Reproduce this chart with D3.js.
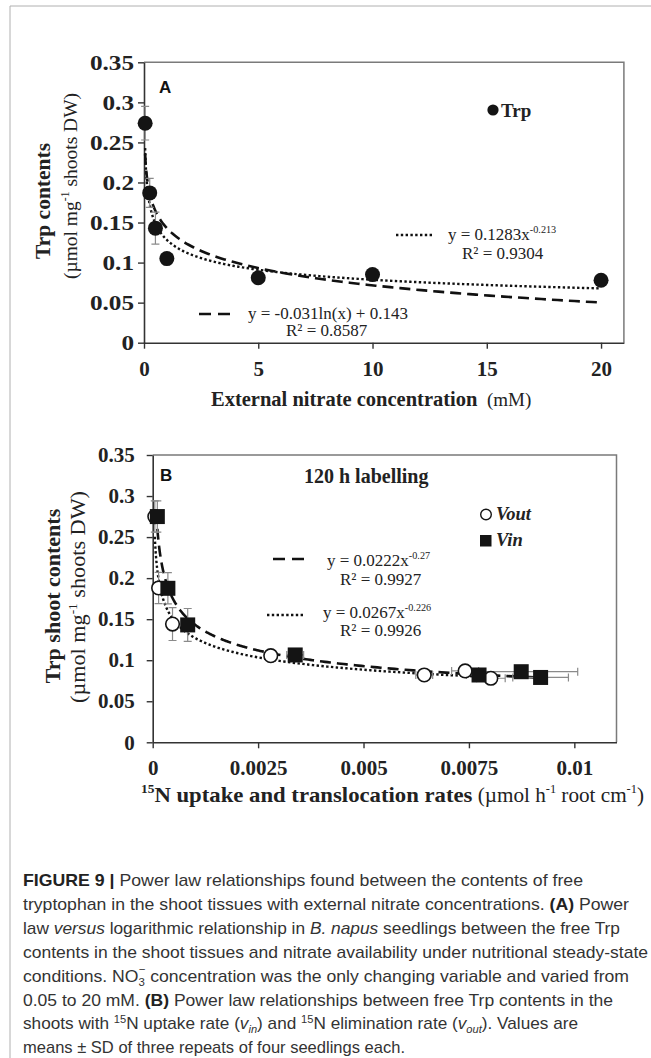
<!DOCTYPE html>
<html>
<head>
<meta charset="utf-8">
<script src="https://cdn.jsdelivr.net/npm/d3@7"></script>
<style>
  body { margin: 0; background: #fff; }
  svg { display: block; }
</style>
</head>
<body>
<div id="fig"></div>
<script>
var W = 651, H = 1058;

// panel A : Trp contents vs external nitrate
var nitrateMM = [0.05, 0.25, 0.5, 1, 5, 10, 20];
var trpA      = [0.274, 0.187, 0.143, 0.105, 0.081, 0.085, 0.078];
var trpSdA    = [0.021, 0.018, 0.02, 0.003, 0.003, 0.003, 0.003];
var powFitA   = [0.1283, -0.213];      // y = a x^b
var logFitA   = [-0.031, 0.143];       // y = a ln(x) + b
var xTicksA   = [0, 5, 10, 15, 20];

// panel B : Trp shoot contents vs 15N rates
var vOut      = [0.00005, 0.00014, 0.00047, 0.0028, 0.00644, 0.00741, 0.00802];
var vOutSd    = [0, 0, 0, 0.0001, 0.0002, 0.00032, 0.00034];
var trpOut    = [0.275, 0.188, 0.144, 0.1055, 0.082, 0.087, 0.078];
var vIn       = [0.00011, 0.00036, 0.00083, 0.00338, 0.00774, 0.00874, 0.0092];
var vInSd     = [0, 0, 0, 0.0002, 0.0003, 0.00134, 0.00066];
var trpIn     = [0.275, 0.1876, 0.143, 0.1064, 0.082, 0.086, 0.079];
var trpSdB    = [0.019, 0.019, 0.02, 0.004, 0.003, 0.003, 0.003];
var powFitIn  = [0.0222, -0.27];
var powFitOut = [0.0267, -0.226];
var xTicksB   = [0, 0.0025, 0.005, 0.0075, 0.01];

var yTicks = [0, 0.05, 0.1, 0.15, 0.2, 0.25, 0.3, 0.35];

var captionLines = [
  [["FIGURE 9 | ", "b"], ["Power law relationships found between the contents of free"]],
  [["tryptophan in the shoot tissues with external nitrate concentrations. "], ["(A)", "b"], [" Power"]],
  [["law "], ["versus", "i"], [" logarithmic relationship in "], ["B. napus", "i"], [" seedlings between the free Trp"]],
  [["contents in the shoot tissues and nitrate availability under nutritional steady-state"]],
  [["conditions. NO"], ["3", "sub"], ["\u2212", "supback"], [" concentration was the only changing variable and varied from"]],
  [["0.05 to 20 mM. "], ["(B)", "b"], [" Power law relationships between free Trp contents in the"]],
  [["shoots with "], ["15", "sup"], ["N uptake rate ("], ["v", "i"], ["in", "isub"], [") and "], ["15", "sup"], ["N elimination rate ("], ["v", "i"], ["out", "isub"], ["). Values are"]],
  [["means \u00b1 SD of three repeats of four seedlings each."]]
];
var captionEnds = [583, 629, 620, 648, 629, 613, 578, 405];

var serif = "'Liberation Serif', 'Times New Roman', serif";
var sans = "'Liberation Sans', Arial, sans-serif";

var svg = d3.select("#fig").append("svg")
  .attr("width", W)
  .attr("height", H);

// frame
svg.append("line").attr("x1", 10).attr("x2", 10).attr("y1", 6).attr("y2", H)
  .attr("stroke", "#b0b0b0").attr("stroke-width", 1);
svg.append("line").attr("x1", 10).attr("x2", W).attr("y1", 6).attr("y2", 6)
  .attr("stroke", "#b0b0b0").attr("stroke-width", 1);

function powF(p) { return function(x) { return p[0] * Math.pow(x, p[1]); }; }
function logF(p) { return function(x) { return p[0] * Math.log(x) + p[1]; }; }

function curve(x0, x1, f) {
  return d3.range(0, 301).map(function(i) {
    var x = x0 * Math.pow(x1 / x0, i / 300);
    return [x, f(x)];
  });
}

function drawAxes(g, x, y, xTicks, xFmt, opts) {
  var x0 = x.range()[0], x1 = x.range()[1];
  var y0 = y.range()[0], y1 = y.range()[1];
  // box top & right
  g.append("path")
    .attr("d", "M" + x0 + "," + y1 + "H" + x1 + "V" + y0)
    .attr("fill", "none").attr("stroke", "#7a7a7a").attr("stroke-width", 1.5);

  var ax = g.append("g").attr("transform", "translate(0," + y0 + ")")
    .call(d3.axisBottom(x).tickValues(xTicks).tickFormat(xFmt)
      .tickSize(6).tickSizeOuter(0).tickPadding(opts.xPad));
  var ay = g.append("g").attr("transform", "translate(" + x0 + ",0)")
    .call(d3.axisLeft(y).tickValues(yTicks).tickFormat(function(d) { return d3.format("")(+d.toFixed(2)); })
      .tickSize(6).tickSizeOuter(0).tickPadding(opts.yPad));
  [ax, ay].forEach(function(a) {
    a.select(".domain").attr("stroke", "#333").attr("stroke-width", 1.6);
    a.selectAll(".tick line").attr("stroke", "#333").attr("stroke-width", 1.4);
    a.selectAll(".tick text")
      .attr("fill", "#222")
      .style("font-family", serif)
      .style("font-weight", "bold")
      .style("font-size", "21px");
  });
  if (opts.yStretch) {
    ay.selectAll(".tick text").each(function() {
      var len = this.getComputedTextLength();
      d3.select(this).attr("textLength", len * opts.yStretch).attr("lengthAdjust", "spacingAndGlyphs");
    });
  }
}

// parts: [text, style, size]
function addText(g, x, y, parts, size, anchor) {
  var t = g.append("text").attr("x", x).attr("y", y)
    .attr("text-anchor", anchor || "start")
    .style("font-family", serif).style("font-size", size + "px").attr("fill", "#222");
  var shift = 0;
  parts.forEach(function(p) {
    var s = t.append("tspan").text(p[0]);
    var st = p[1] || "";
    var dy = 0;
    if (st.indexOf("b") >= 0) s.style("font-weight", "bold");
    if (st.indexOf("i") >= 0) s.style("font-style", "italic");
    if (st.indexOf("^") >= 0) { dy = -size * 0.4; s.style("font-size", (size * 0.6) + "px"); }
    if (p[2]) s.style("font-size", p[2] + "px");
    s.attr("dy", dy - shift);
    shift = dy;
  });
  return t;
}

function errV(g, xs, ys, sd, x, y, color) {
  xs.forEach(function(xv, i) {
    if (!sd[i]) return;
    var px = x(xv);
    g.append("path")
      .attr("d", "M" + px + "," + y(ys[i] - sd[i]) + "V" + y(ys[i] + sd[i]) +
        "M" + (px - 4) + "," + y(ys[i] - sd[i]) + "h8" +
        "M" + (px - 4) + "," + y(ys[i] + sd[i]) + "h8")
      .attr("stroke", color).attr("stroke-width", 1.2).attr("fill", "none");
  });
}
function errH(g, xs, ys, sd, x, y, color) {
  xs.forEach(function(xv, i) {
    if (!sd[i]) return;
    var py = y(ys[i]);
    g.append("path")
      .attr("d", "M" + x(xv - sd[i]) + "," + py + "H" + x(xv + sd[i]) +
        "M" + x(xv - sd[i]) + "," + (py - 4) + "v8" +
        "M" + x(xv + sd[i]) + "," + (py - 4) + "v8")
      .attr("stroke", color).attr("stroke-width", 1.2).attr("fill", "none");
  });
}

// ---------------- Panel A ----------------
var gA = svg.append("g");
var xA = d3.scaleLinear().domain([0, 21]).range([144, 623.9]);
var yA = d3.scaleLinear().domain([0, 0.35]).range([342.7, 62.3]);

drawAxes(gA, xA, yA, xTicksA, d3.format("d"), { xPad: 12, yPad: 4, yStretch: 1.2 });

var lineA = d3.line().x(function(d) { return xA(d[0]); }).y(function(d) { return yA(d[1]); });

gA.append("path").datum(curve(nitrateMM[0], nitrateMM[6], logF(logFitA)))
  .attr("d", lineA).attr("fill", "none").attr("stroke", "#111")
  .attr("stroke-width", 2.6).attr("stroke-dasharray", "11,6");
gA.append("path").datum(curve(nitrateMM[0], nitrateMM[6], powF(powFitA)))
  .attr("d", lineA).attr("fill", "none").attr("stroke", "#111")
  .attr("stroke-width", 2.4).attr("stroke-dasharray", "2.4,2.4");

errV(gA, nitrateMM, trpA, trpSdA, xA, yA, "#8a8a8a");

gA.selectAll("circle.pt").data(nitrateMM).enter().append("circle")
  .attr("class", "pt")
  .attr("cx", function(d) { return xA(d); })
  .attr("cy", function(d, i) { return yA(trpA[i]); })
  .attr("r", 7.5)
  .attr("fill", "#141414");

// legend + labels A
gA.append("text").attr("x", 159).attr("y", 93).text("A")
  .style("font-family", sans).style("font-weight", "bold").style("font-size", "17px").attr("fill", "#111");
gA.append("circle").attr("cx", 493).attr("cy", 110).attr("r", 5.6).attr("fill", "#141414");
addText(gA, 501, 117, [["Trp", "b"]], 19);

gA.append("line").attr("x1", 396).attr("x2", 433).attr("y1", 235).attr("y2", 235)
  .attr("stroke", "#111").attr("stroke-width", 2.4).attr("stroke-dasharray", "2.4,2.4");
addText(gA, 448, 240, [["y = 0.1283x"], ["-0.213", "^"]], 17);
addText(gA, 462, 259, [["R\u00b2 = 0.9304"]], 17);

gA.append("line").attr("x1", 199).attr("x2", 231).attr("y1", 314).attr("y2", 314)
  .attr("stroke", "#111").attr("stroke-width", 2.6).attr("stroke-dasharray", "12,7");
addText(gA, 248, 319, [["y = -0.031ln(x) + 0.143"]], 17);
addText(gA, 286, 336, [["R\u00b2 = 0.8587"]], 17);

// axis titles A
addText(gA, 211, 406, [["External nitrate concentration", "b"], ["\u00a0\u00a0(mM)", "", 19]], 20.5);
addText(gA, 0, 0, [["Trp contents", "b"]], 21.5, "middle")
  .attr("transform", "translate(50,201) rotate(-90)");
addText(gA, 0, 0, [["(\u00b5mol mg"], ["-1", "^"], [" shoots DW)"]], 19.5, "middle")
  .attr("transform", "translate(77,186) rotate(-90)");

// ---------------- Panel B ----------------
var gB = svg.append("g");
var xB = d3.scaleLinear().domain([0, 0.011]).range([152.7, 616.5]);
var yB = d3.scaleLinear().domain([0, 0.35]).range([742.3, 455]);

drawAxes(gB, xB, yB, xTicksB, function(d) { return d3.format("")(+d.toFixed(4)); }, { xPad: 12, yPad: 12 });

var lineB = d3.line().x(function(d) { return xB(d[0]); }).y(function(d) { return yB(d[1]); });

gB.append("path").datum(curve(d3.min(vIn), d3.max(vIn), powF(powFitIn)))
  .attr("d", lineB).attr("fill", "none").attr("stroke", "#111")
  .attr("stroke-width", 2.6).attr("stroke-dasharray", "11,6");
gB.append("path").datum(curve(d3.min(vOut), d3.max(vOut), powF(powFitOut)))
  .attr("d", lineB).attr("fill", "none").attr("stroke", "#111")
  .attr("stroke-width", 2.4).attr("stroke-dasharray", "2.4,2.4");

errV(gB, vOut, trpOut, trpSdB, xB, yB, "#8a8a8a");
errV(gB, vIn, trpIn, trpSdB, xB, yB, "#8a8a8a");
errH(gB, vOut, trpOut, vOutSd, xB, yB, "#8a8a8a");
errH(gB, vIn, trpIn, vInSd, xB, yB, "#8a8a8a");

gB.selectAll("circle.out").data(vOut).enter().append("circle")
  .attr("class", "out")
  .attr("cx", function(d) { return xB(d); })
  .attr("cy", function(d, i) { return yB(trpOut[i]); })
  .attr("r", 6.8)
  .attr("fill", "#fff").attr("stroke", "#141414").attr("stroke-width", 1.6);

gB.selectAll("rect.in").data(vIn).enter().append("rect")
  .attr("class", "in")
  .attr("x", function(d) { return xB(d) - 7.5; })
  .attr("y", function(d, i) { return yB(trpIn[i]) - 7.5; })
  .attr("width", 15).attr("height", 15)
  .attr("fill", "#141414");

gB.append("text").attr("x", 160).attr("y", 481).text("B")
  .style("font-family", sans).style("font-weight", "bold").style("font-size", "17px").attr("fill", "#111");
addText(gB, 304, 483, [["120 h labelling", "b"]], 20);

gB.append("circle").attr("cx", 486).attr("cy", 514.5).attr("r", 5.3)
  .attr("fill", "#fff").attr("stroke", "#141414").attr("stroke-width", 1.4);
addText(gB, 496, 520, [["Vout", "bi"]], 18.5);
gB.append("rect").attr("x", 480).attr("y", 535).attr("width", 11.5).attr("height", 11.5).attr("fill", "#141414");
addText(gB, 496, 546, [["Vin", "bi"]], 18.5);

gB.append("line").attr("x1", 273).attr("x2", 306).attr("y1", 559).attr("y2", 559)
  .attr("stroke", "#111").attr("stroke-width", 2.6).attr("stroke-dasharray", "12,7");
addText(gB, 327, 566, [["y = 0.0222x"], ["-0.27", "^"]], 17);
addText(gB, 340, 585, [["R\u00b2 = 0.9927"]], 17);

gB.append("line").attr("x1", 267).attr("x2", 305).attr("y1", 615).attr("y2", 615)
  .attr("stroke", "#111").attr("stroke-width", 2.4).attr("stroke-dasharray", "2.4,2.4");
addText(gB, 323, 618, [["y = 0.0267x"], ["-0.226", "^"]], 17);
addText(gB, 340, 636, [["R\u00b2 = 0.9926"]], 17);

// axis titles B
addText(gB, 141, 802, [["15", "b^", 13], ["N uptake and translocation rates", "b", 22],
  [" (\u00b5mol h", "", 20.5], ["-1", "^", 12], [" root cm", "", 20.5], ["-1", "^", 12], [")", "", 20.5]], 22)
  .attr("textLength", 503).attr("lengthAdjust", "spacingAndGlyphs");
addText(gB, 0, 0, [["Trp shoot contents", "b"]], 22, "middle")
  .attr("transform", "translate(60,596) rotate(-90)");
addText(gB, 0, 0, [["(\u00b5mol mg"], ["-1", "^"], [" shoots DW)"]], 20, "middle")
  .attr("transform", "translate(85,597) rotate(-90)")
  .attr("textLength", 212).attr("lengthAdjust", "spacingAndGlyphs");

// ---------------- caption ----------------
var gC = svg.append("g");
captionLines.forEach(function(parts, li) {
  var t = gC.append("text")
    .attr("x", 23).attr("y", 886 + li * 23.9)
    .style("font-family", sans).style("font-size", "17px").attr("fill", "#333");
  var shift = 0;
  parts.forEach(function(p) {
    var s = t.append("tspan").text(p[0]);
    var st = p[1];
    var dy = 0;
    if (st === "b") s.style("font-weight", "bold").attr("fill", "#222");
    if (st === "i") s.style("font-style", "italic");
    if (st === "sup") { dy = -6; s.style("font-size", "11px"); }
    if (st === "sub" ) { dy = 4; s.style("font-size", "11px"); }
    if (st === "isub") { dy = 4; s.style("font-size", "11px").style("font-style", "italic"); }
    if (st === "supback") { dy = -9; s.attr("dx", -6).style("font-size", "11px"); }
    s.attr("dy", dy - shift);
    shift = dy;
  });
  t.attr("textLength", captionEnds[li] - 23).attr("lengthAdjust", "spacingAndGlyphs");
});
</script>
</body>
</html>
